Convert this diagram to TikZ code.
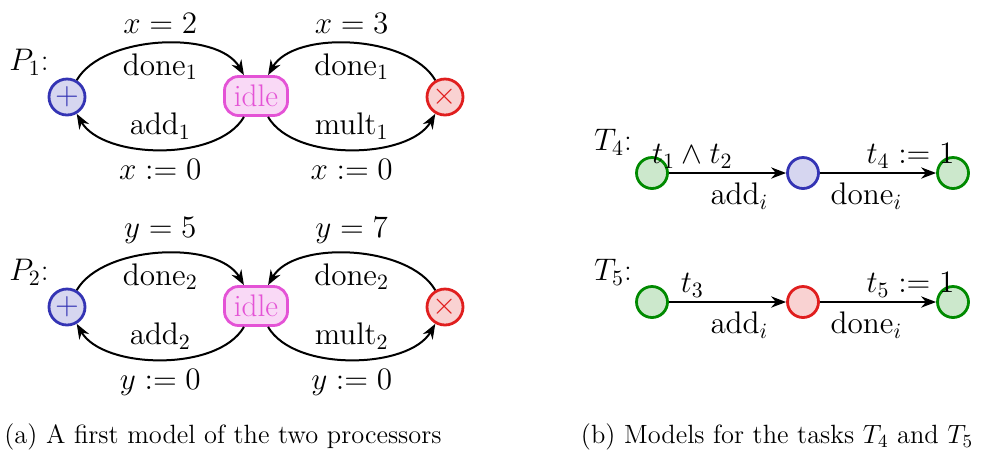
\RequirePackage{fix-cm}
\documentclass[tikz,border=0pt]{standalone}
\usepackage{xcolor}
\usepackage{tikz}
\usepackage{amsmath}
\usetikzlibrary{arrows.meta, positioning}
\definecolor{addBlue}{HTML}{3434B4}
\definecolor{multRed}{HTML}{E01E1E}
\definecolor{idlePink}{HTML}{E453D6}
\definecolor{taskGreen}{HTML}{008A00}

\begin{document}
\begin{tikzpicture}[
    x=0.5pt, y=0.5pt,
    lbl/.style={font=\fontsize{15.6}{18}\selectfont, inner sep=4.5pt},
    addst/.style={circle, line width=1.4pt, draw=addBlue, fill=addBlue!20,
        text=addBlue, minimum size=18pt, inner sep=0pt, font=\fontsize{15.6}{18}\selectfont},
    multst/.style={circle, line width=1.4pt, draw=multRed, fill=multRed!20,
        text=multRed, minimum size=18pt, inner sep=0pt, font=\fontsize{15.6}{18}\selectfont},
    idlest/.style={rectangle, rounded corners=7pt, line width=1.4pt,
        draw=idlePink, fill=idlePink!22, text=idlePink,
        minimum width=31.5pt, minimum height=19.5pt, inner sep=1pt, font=\fontsize{15.6}{18}\selectfont},
    taskst/.style={circle, line width=1.4pt, draw=taskGreen, fill=taskGreen!20,
        minimum size=15.5pt, inner sep=0pt},
    trans/.style={-Stealth, line width=1pt},
    caption/.style={font=\fontsize{13.2}{15}\selectfont}
]
    \useasboundingbox (0,0) rectangle (984,-457);

    % processor P1
    \node[lbl] (p1) at (29,-62) {$P_1$:};
    \node[addst] (add1) at (67,-97) {$+$};
    \node[idlest] (idle1) at (256,-96) {idle};
    \node[multst] (mult1) at (445,-97) {$\times$};

    \draw[trans] (add1) to[out=60, in=120, looseness=0.8]
        node[lbl, above] {$x = 2$} node[lbl, below] {$\mathrm{done}_1$} (idle1);
    \draw[trans] (idle1) to[out=-120, in=-60, looseness=0.8]
        node[lbl, above] {$\mathrm{add}_1$} node[lbl, below] {$x := 0$} (add1);
    \draw[trans] (mult1) to[out=120, in=60, looseness=0.8]
        node[lbl, above] {$x = 3$} node[lbl, below] {$\mathrm{done}_1$} (idle1);
    \draw[trans] (idle1) to[out=-60, in=-120, looseness=0.8]
        node[lbl, above] {$\mathrm{mult}_1$} node[lbl, below] {$x := 0$} (mult1);

    % processor P2
    \node[lbl] (p2) at (29,-272) {$P_2$:};
    \node[addst] (add2) at (67,-307) {$+$};
    \node[idlest] (idle2) at (256,-306) {idle};
    \node[multst] (mult2) at (445,-307) {$\times$};

    \draw[trans] (add2) to[out=60, in=120, looseness=0.8]
        node[lbl, above] {$y = 5$} node[lbl, below] {$\mathrm{done}_2$} (idle2);
    \draw[trans] (idle2) to[out=-120, in=-60, looseness=0.8]
        node[lbl, above] {$\mathrm{add}_2$} node[lbl, below] {$y := 0$} (add2);
    \draw[trans] (mult2) to[out=120, in=60, looseness=0.8]
        node[lbl, above] {$y = 7$} node[lbl, below] {$\mathrm{done}_2$} (idle2);
    \draw[trans] (idle2) to[out=-60, in=-120, looseness=0.8]
        node[lbl, above] {$\mathrm{mult}_2$} node[lbl, below] {$y := 0$} (mult2);

    % task T4
    \node[lbl] (t4) at (613,-142) {$T_4$:};
    \node[taskst] (t4a) at (652,-173) {};
    \node[addst, minimum size=15.5pt] (t4b) at (803,-173) {};
    \node[taskst] (t4c) at (953,-173) {};

    \draw[trans] (t4a) -- node[lbl, above, inner sep=2pt, pos=0.2] {$t_1 \wedge t_2$}
        node[lbl, below, pos=0.6] {$\mathrm{add}_i$} (t4b);
    \draw[trans] (t4b) -- node[lbl, above, inner sep=2pt, pos=0.78] {$t_4 := 1$}
        node[lbl, below, pos=0.4] {$\mathrm{done}_i$} (t4c);

    % task T5
    \node[lbl] (t5) at (613,-272) {$T_5$:};
    \node[taskst] (t5a) at (652,-302) {};
    \node[multst, minimum size=15.5pt] (t5b) at (803,-302) {};
    \node[taskst] (t5c) at (953,-302) {};

    \draw[trans] (t5a) -- node[lbl, above, inner sep=2pt, pos=0.2] {$t_3$}
        node[lbl, below, pos=0.6] {$\mathrm{add}_i$} (t5b);
    \draw[trans] (t5b) -- node[lbl, above, inner sep=2pt, pos=0.78] {$t_5 := 1$}
        node[lbl, below, pos=0.4] {$\mathrm{done}_i$} (t5c);

    % captions
    \node[caption] (capA) at (223,-437) {(a) A first model of the two processors};
    \node[caption] (capB) at (777,-437) {(b) Models for the tasks $T_4$ and $T_5$};
\end{tikzpicture}
\end{document}
